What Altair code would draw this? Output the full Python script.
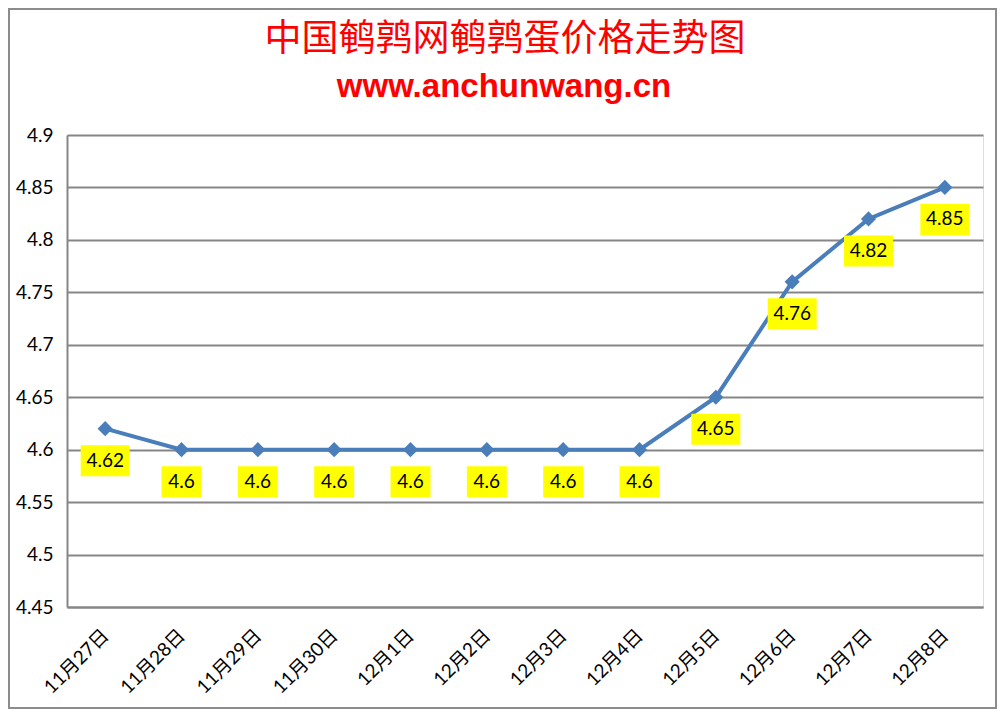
import altair as alt
import pandas as pd

dates = ["11月27日", "11月28日", "11月29日", "11月30日", "12月1日", "12月2日",
         "12月3日", "12月4日", "12月5日", "12月6日", "12月7日", "12月8日"]
prices = [4.62, 4.6, 4.6, 4.6, 4.6, 4.6, 4.6, 4.6, 4.65, 4.76, 4.82, 4.85]
y_ticks = [4.45, 4.5, 4.55, 4.6, 4.65, 4.7, 4.75, 4.8, 4.85, 4.9]

title_text = "中国鹌鹑网鹌鹑蛋价格走势图"
subtitle_text = "www.anchunwang.cn"

df = pd.DataFrame({"date": dates, "price": prices})
df["label"] = [f"{p:g}" for p in prices]
df["lw"] = ["short" if len(s) <= 3 else "long" for s in df["label"]]

W, H = 916, 472
PAD_L, PAD_T, PAD_R, PAD_B = 59, 127, 14, 102
GRID = "#868686"
BLUE = "#4A7EBB"
NUM_FONT = "Lato, Noto Sans CJK SC"

x_enc = alt.X("date:N", sort=dates, title=None,
              scale=alt.Scale(type="point", padding=0.5),
              axis=alt.Axis(labelAngle=-45, labelAlign="right", labelBaseline="middle",
                            labelPadding=25, ticks=False, domainColor=GRID, domainWidth=2,
                            labelFont=NUM_FONT, labelFontSize=19, labelColor="#000000",
                            grid=False))
y_enc = alt.Y("price:Q", title=None,
              scale=alt.Scale(domain=[4.45, 4.9], nice=False, zero=False),
              axis=alt.Axis(values=y_ticks, format=".2~f", ticks=False, domainColor=GRID,
                            domainWidth=2, gridColor=GRID, gridWidth=2, gridOpacity=1,
                            labelFont=NUM_FONT, labelFontSize=19, labelColor="#000000",
                            labelPadding=14))

base = alt.Chart(df)

line = base.mark_line(color=BLUE, strokeWidth=4).encode(x=x_enc, y=y_enc)
pts = base.mark_point(shape="diamond", filled=True, color=BLUE, size=230, opacity=1).encode(
    x=alt.X("date:N", sort=dates), y="price:Q")

box_short = "M-1.29,-1L1.29,-1L1.29,1L-1.29,1Z"
box_long = "M-1.58,-1L1.58,-1L1.58,1L-1.58,1Z"
boxes = base.mark_point(filled=True, color="#FFFF00", opacity=1, size=961, yOffset=32).encode(
    x=alt.X("date:N", sort=dates), y="price:Q",
    shape=alt.Shape("lw:N", scale=alt.Scale(domain=["short", "long"], range=[box_short, box_long]),
                    legend=None))
texts = base.mark_text(font=NUM_FONT, fontSize=19, color="#000000", dy=32,
                       align="center", baseline="middle").encode(
    x=alt.X("date:N", sort=dates), y="price:Q", text="label:N")

one = alt.Chart(pd.DataFrame({"t": [title_text], "s": [subtitle_text]}))
frame = one.mark_rect(fill="transparent", stroke="#8C8C8C", strokeWidth=2).encode(
    x=alt.value(-PAD_L + 1), x2=alt.value(W + PAD_R - 1),
    y=alt.value(-PAD_T + 1), y2=alt.value(H + PAD_B - 1))
title = one.mark_text(font="Noto Sans CJK SC", fontSize=37, color="#FF0000",
                      align="center", baseline="middle").encode(
    x=alt.value(438), y=alt.value(-95), text="t:N")
subtitle = one.mark_text(font="Liberation Sans", fontSize=33, fontWeight="bold", color="#FF0000",
                         align="center", baseline="alphabetic").encode(
    x=alt.value(437), y=alt.value(-38), text="s:N")

chart = alt.layer(frame, title, subtitle, line, pts, boxes, texts).properties(
    width=W, height=H,
    autosize=alt.AutoSizeParams(type="none"),
    padding={"left": PAD_L, "top": PAD_T, "right": PAD_R, "bottom": PAD_B},
).configure_view(stroke=None).configure(background="white")

chart.save("out.html", embed_options={"renderer": "svg", "actions": False})
